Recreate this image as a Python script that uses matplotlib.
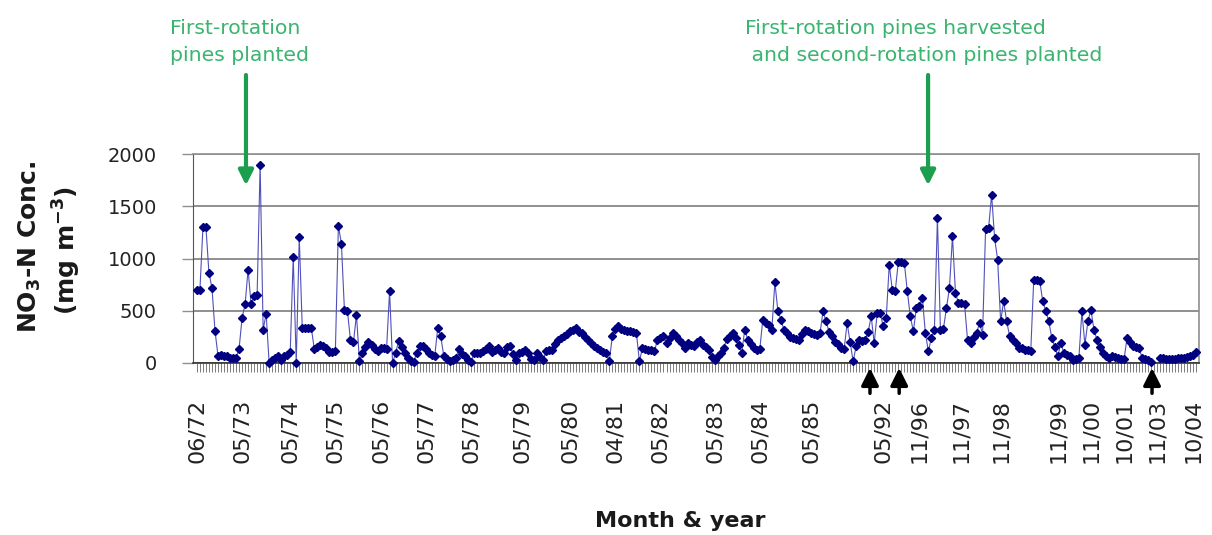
import numpy as np
import matplotlib.pyplot as plt

# NO3-N concentration (mg m-3), one value per sampling date
conc_72_82 = [
    700, 700, 1300, 1300, 860, 720, 310, 70, 80, 70,
    64, 50, 48, 50, 134, 430, 560, 893, 560, 640,
    650, 1898, 320, 470, 0, 30, 50, 64, 30, 64,
    80, 110, 1014, 0, 1206, 335, 335, 335, 335, 134,
    150, 175, 160, 144, 102, 110, 118, 1314, 1142, 510,
    500, 223, 198, 462, 16, 96, 150, 198, 170, 134,
    112, 144, 140, 134, 686, 0, 96, 207, 150, 96,
    50, 16, 6, 100, 160, 160, 130, 96, 80, 64,
    335, 255, 70, 40, 16, 30, 48, 134, 90, 64,
    30, 6, 96, 96, 100, 112, 130, 160, 102, 120,
    144, 110, 96, 150,
]
conc_82_92 = [
    160, 90, 32, 96, 110, 128, 100, 40, 32, 96,
    60, 32, 112, 120, 128, 180, 223, 240, 255, 280,
    303, 320, 335, 300, 287, 250, 223, 190, 160, 140,
    128, 110, 96, 16, 255, 330, 350, 330, 320, 310,
    303, 295, 287, 16, 144, 135, 128, 120, 112, 223,
    240, 255, 190, 240, 287, 255, 220, 190, 144, 190,
    175, 160, 200, 223, 175, 150, 128, 60, 32, 64,
    100, 144, 230, 255, 287, 240, 175, 96, 320, 223,
    180, 144, 128, 135, 415, 380, 367, 320, 772, 500,
    415, 320, 287, 250, 240, 230, 223, 280, 320, 303,
    290, 275, 271, 287, 494, 399, 300, 255, 200, 180,
    144, 130, 383, 200, 16, 160, 223,
]
conc_92_04 = [
    207, 223, 300, 446, 190, 478, 478, 350, 430, 941,
    700, 690, 963, 963, 960, 686, 446, 303, 526, 542,
    622, 287, 112, 240, 319, 1388, 319, 330, 526, 718,
    1212, 670, 574, 570, 568, 223, 190, 250, 287, 383,
    271, 1282, 1290, 1611, 1196, 989, 399, 590, 400, 255,
    220, 190, 144, 140, 128, 120, 112, 797, 797, 781,
    590, 500, 399, 240, 150, 64, 190, 96, 80, 64,
    32, 40, 48, 494, 175, 400, 510, 319, 223, 150,
    96, 70, 48, 64, 55, 48, 40, 38, 240, 200,
    160, 150, 144, 48, 40, 32, 10, np.nan, np.nan, 48,
    45, 40, 38, 38, 40, 45, 48, 52, 57, 65,
    80, 102,
]
conc = conc_72_82 + conc_82_92 + conc_92_04

tick_labels = ["06/72", "05/73", "05/74", "05/75", "05/76", "05/77", "05/78",
               "05/79", "05/80", "04/81", "05/82", "05/83", "05/84", "05/85",
               "05/92", "11/96", "11/97", "11/98", "11/99", "11/00", "10/01",
               "11/03", "10/04"]
tick_idx = [0, 15, 31, 46, 61, 76, 91, 108, 124, 139, 154, 172, 187, 204,
            228, 240, 254, 267, 286, 297, 308, 319, 331]

# sampling points marked with black arrows, and the two forestry events
marked_idx = [223.6, 233.3, 317.3]
events = [(16.3, "First-rotation\npines planted", 170),
          (242.9, "First-rotation pines harvested\n and second-rotation pines planted", 745)]

green_txt = "#3ab56f"
green_arr = "#1b9e4e"

fig = plt.figure(figsize=(12.12, 5.35), dpi=100)
ax = fig.add_axes([193 / 1212, 1 - 363 / 535, 1006 / 1212, 209 / 535])

x = np.arange(len(conc))
ax.plot(x, conc, color="#5050bb", lw=0.8, marker="D", ms=4.3,
        mfc="#000080", mec="#000080", clip_on=False, zorder=3)

ax.set_xlim(-1.3, 332.9)
ax.set_ylim(0, 2000)
ax.set_yticks([0, 500, 1000, 1500, 2000])
ax.yaxis.grid(True, color="#8f8f8f", lw=1.4)
ax.set_axisbelow(True)

ax.set_xticks(tick_idx)
ax.set_xticklabels(tick_labels, rotation=90, fontsize=16, color="#222222")
ax.set_xticks(x, minor=True)
ax.xaxis.remove_overlapping_locs = False
ax.tick_params(axis="x", which="major", length=0, pad=26)
ax.tick_params(axis="x", which="minor", length=6.5, width=0.6, color="#666666")
ax.tick_params(axis="y", length=8, width=1, color="#8f8f8f",
               labelsize=14, labelcolor="#222222", pad=18)

for side in ["top", "right"]:
    ax.spines[side].set_color("#8f8f8f")
    ax.spines[side].set_linewidth(1.2)
ax.spines["left"].set_color("#555555")
ax.spines["bottom"].set_color("#333333")
ax.spines["bottom"].set_linewidth(1.2)

fig.text(30 / 1212, 1 - 247 / 535, r"NO$_\mathbf{3}$-N Conc.", rotation=90,
         fontsize=18, fontweight="bold", ha="center", va="center", color="#1a1a1a")
fig.text(67 / 1212, 1 - 250 / 535, r"(mg m$^{\mathbf{-3}}$)", rotation=90,
         fontsize=18, fontweight="bold", ha="center", va="center", color="#1a1a1a")
fig.text(680 / 1212, 1 - 521 / 535, "Month & year", fontsize=16,
         fontweight="bold", ha="center", va="center", color="#1a1a1a")

for idx in marked_idx:
    ax.annotate("", xy=(idx, -0.024), xycoords=("data", "axes fraction"),
                xytext=(idx, -0.145), textcoords=("data", "axes fraction"),
                arrowprops=dict(arrowstyle="-|>", color="black", lw=2.5,
                                mutation_scale=26, shrinkA=0, shrinkB=0),
                annotation_clip=False)

for idx, label, left in events:
    ax.annotate("", xy=(idx, 0.85), xycoords=("data", "axes fraction"),
                xytext=(idx, 1.378), textcoords=("data", "axes fraction"),
                arrowprops=dict(arrowstyle="-|>", color=green_arr, lw=3,
                                mutation_scale=22, shrinkA=0, shrinkB=0),
                annotation_clip=False)
    fig.text(left / 1212, 1 - 19 / 535, label, fontsize=14.7, color=green_txt,
             ha="left", va="top", linespacing=1.55)

fig.savefig("out.png", dpi=100)
